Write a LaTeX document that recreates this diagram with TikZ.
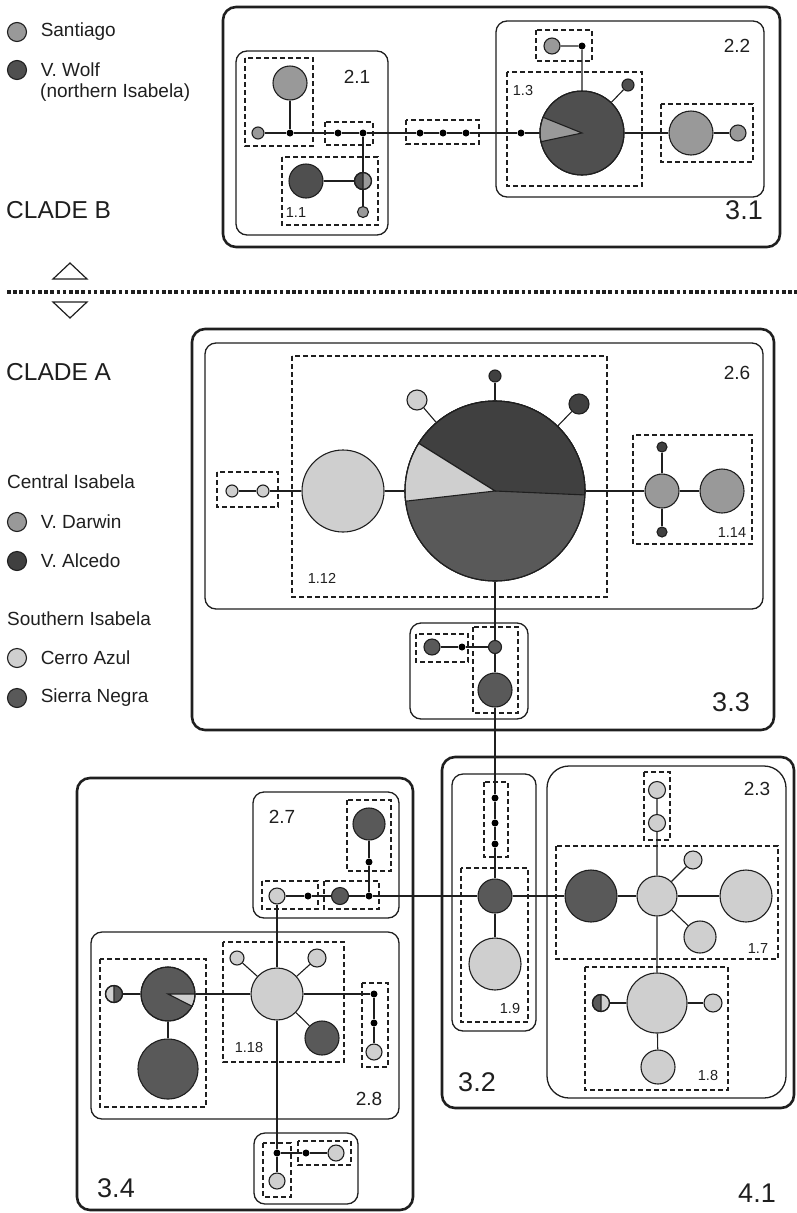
\documentclass[tikz,border=0pt]{standalone}
\usepackage{fontspec}
\setmainfont{Liberation Sans}
\usetikzlibrary{positioning}
\definecolor{santiago}{gray}{0.60}
\definecolor{wolf}{gray}{0.31}
\definecolor{darwin}{gray}{0.60}
\definecolor{alcedo}{gray}{0.25}
\definecolor{sierra}{gray}{0.35}
\definecolor{azul}{gray}{0.81}
\definecolor{ink}{gray}{0.12}
\tikzset{
  hap/.style={circle, draw=ink, fill=#1, line width=1.1pt, inner sep=0pt}, % one haplotype
  mv/.style={circle, fill=black, inner sep=0pt, minimum size=7pt}, % missing haplotype
  link/.style={draw=ink, line width=1.1pt},
  lvlone/.style={draw=ink, line width=1.4pt, dash pattern=on 5pt off 3pt}, % 1-step clades
  lvltwo/.style={draw=ink, line width=1.3pt, rounded corners=11pt}, % 2-step clades
  lvlthree/.style={draw=ink, line width=2.6pt, rounded corners=13pt}, % 3-step clades
  lab/.style={text=ink, inner sep=0pt, font=\fontsize{14.5}{17}\selectfont},
  midlab/.style={text=ink, inner sep=0pt, font=\fontsize{19}{22}\selectfont},
  biglab/.style={text=ink, inner sep=0pt, font=\fontsize{27}{30}\selectfont},
  legend/.style={text=ink, inner sep=0pt, anchor=west, font=\fontsize{19}{23}\selectfont},
}
\newcommand{\hapwedge}[5]{\filldraw[fill=#5, draw=ink, line width=1.1pt] (#1.center) -- ++(#2:#4) arc[start angle=#2, end angle=#3, radius=#4] -- cycle;}
\newcommand{\hapring}[2]{\draw[ink, line width=1.1pt] (#1.center) circle[radius=#2];}

\begin{document}
\begin{tikzpicture}[x=1pt, y=-1pt]
  \useasboundingbox (0,0) rectangle (797,1213);

  % legend, clade B
  \node[hap=santiago, minimum size=19pt] (legSant) at (17,32) {};
  \node[legend, right=13.5pt of legSant] {Santiago};
  \node[hap=wolf, minimum size=19pt] (legWolf) at (17,70) {};
  \node[legend, right=13.5pt of legWolf] (legWolfT) {V. Wolf};
  \node[legend] (legWolfN) at (40,93) {(northern Isabela)};
  \node[legend, font=\fontsize{24.5}{28}\selectfont] (cladeB) at (6,210) {CLADE B};

  % separator
  \draw[ink, line width=3.6pt, dash pattern=on 3.6pt off 2.6pt] (7,292) -- (797,292);
  \draw[ink, line width=1.2pt] (53,279) -- (87,279) -- (70,263) -- cycle;
  \draw[ink, line width=1.2pt] (53,302) -- (87,302) -- (70,318) -- cycle;

  % legend, clade A
  \node[legend, font=\fontsize{24.5}{28}\selectfont] (cladeA) at (6,372) {CLADE A};
  \node[legend] (legCen) at (7,482) {Central Isabela};
  \node[hap=darwin, minimum size=19pt] (legDar) at (17,522) {};
  \node[legend, right=13.5pt of legDar] {V. Darwin};
  \node[hap=alcedo, minimum size=19pt] (legAlc) at (17,561) {};
  \node[legend, right=13.5pt of legAlc] {V. Alcedo};
  \node[legend] (legSou) at (7,619) {Southern Isabela};
  \node[hap=azul, minimum size=19pt] (legAzul) at (17,658) {};
  \node[legend, right=13.5pt of legAzul] {Cerro Azul};
  \node[hap=sierra, minimum size=19pt] (legSier) at (17,698) {};
  \node[legend, right=13.5pt of legSier] {Sierra Negra};

  % ---- clade B boxes
  \draw[lvlthree] (223,7) rectangle (780,247);
  \draw[lvltwo] (236,51) rectangle (388,235);
  \draw[lvlone] (245,58) rectangle (313,146);
  \draw[lvlone] (325,122) rectangle (373,145);
  \draw[lvlone] (282,157) rectangle (378,225);
  \draw[lvlone] (406,120) rectangle (479,144);
  \draw[lvltwo] (496,21) rectangle (764,197);
  \draw[lvlone] (536,30) rectangle (592,61);
  \draw[lvlone] (507,72) rectangle (642,186);
  \draw[lvlone] (661,104) rectangle (753,162);
  \node[biglab] (l31) at (744,210) {3.1};
  \node[midlab] (l21) at (357,77) {2.1};
  \node[midlab] (l22) at (737,46) {2.2};
  \node[lab] (l13) at (523,91) {1.3};
  \node[lab] (l11) at (296,213) {1.1};

  \node[hap=santiago, minimum size=34pt] (B1) at (290,83) {};
  \node[hap=santiago, minimum size=12pt] (B2) at (258,133) {};
  \node[mv] (mA) at (290,133) {};
  \node[mv] (mB) at (338,133) {};
  \node[mv] (mC) at (363,133) {};
  \node[hap=santiago, minimum size=17pt] (B4) at (363,181) {};
  \hapwedge{B4}{90}{270}{8.5pt}{wolf}
  \hapring{B4}{8.5pt}
  \node[hap=wolf, minimum size=34pt] (B3) at (306,181) {};
  \node[hap=santiago, minimum size=11pt] (B5) at (363,212) {};
  \node[mv] (mD) at (420,133) {};
  \node[mv] (mE) at (443,133) {};
  \node[mv] (mF) at (466,133) {};
  \node[mv] (mG) at (521,133) {};
  \node[hap=wolf, minimum size=84pt] (B6) at (582,133) {};
  \hapwedge{B6}{158}{192}{42pt}{santiago}
  \hapring{B6}{42pt}
  \node[hap=wolf, minimum size=12pt] (B7) at (628,85) {};
  \node[mv] (mH) at (582,46) {};
  \node[hap=santiago, minimum size=16pt] (B8) at (552,46) {};
  \node[hap=santiago, minimum size=44pt] (B9) at (691,133) {};
  \node[hap=santiago, minimum size=16pt] (B10) at (738,133) {};

  \draw[link] (B2) -- (mA) -- (mB) -- (mC) -- (mD) -- (mE) -- (mF) -- (mG) -- (B6) -- (B9) -- (B10);
  \draw[link] (B1) -- (mA);
  \draw[link] (mC) -- (B4) -- (B5);
  \draw[link] (B3) -- (B4);
  \draw[link] (B8) -- (mH) -- (B6) -- (B7);

  % ---- clade A, 3.3
  \draw[lvlthree] (192,329) rectangle (774,730);
  \draw[lvltwo] (205,343) rectangle (763,609);
  \draw[lvlone] (292,356) rectangle (607,597);
  \draw[lvlone] (217,472) rectangle (278,507);
  \draw[lvlone] (633,435) rectangle (752,544);
  \draw[lvltwo] (410,623) rectangle (528,719);
  \draw[lvlone] (416,634) rectangle (468,662);
  \draw[lvlone] (473,627) rectangle (518,713);
  \node[biglab] (l33) at (731,702) {3.3};
  \node[midlab] (l26) at (737,373) {2.6};
  \node[lab] (l112) at (322,578) {1.12};
  \node[lab] (l114) at (732,533) {1.14};

  \node[hap=azul, minimum size=12pt] (A1) at (232,491) {};
  \node[hap=azul, minimum size=12pt] (A2) at (263,491) {};
  \node[hap=azul, minimum size=82pt] (A3) at (343,491) {};
  \node[hap=sierra, minimum size=180pt] (A4) at (495,491) {};
  \hapwedge{A4}{-2.5}{148}{90pt}{alcedo}
  \hapwedge{A4}{148}{186.5}{90pt}{azul}
  \hapring{A4}{90pt}
  \node[hap=azul, minimum size=20pt] (A5) at (417,400) {};
  \node[hap=alcedo, minimum size=12pt] (A6) at (495,376) {};
  \node[hap=alcedo, minimum size=20pt] (A7) at (579,404) {};
  \node[hap=darwin, minimum size=34pt] (A8) at (662,491) {};
  \node[hap=darwin, minimum size=44pt] (A9) at (722,491) {};
  \node[hap=alcedo, minimum size=10pt] (A10) at (662,447) {};
  \node[hap=alcedo, minimum size=10pt] (A11) at (662,532) {};
  \node[hap=sierra, minimum size=16pt] (A12) at (432,647) {};
  \node[mv] (mI) at (462,647) {};
  \node[hap=sierra, minimum size=13pt] (A13) at (495,647) {};
  \node[hap=sierra, minimum size=34pt] (A14) at (495,690) {};

  \draw[link] (A1) -- (A2) -- (A3) -- (A4) -- (A8) -- (A9);
  \draw[link] (A5) -- (A4);
  \draw[link] (A6) -- (A4);
  \draw[link] (A7) -- (A4);
  \draw[link] (A10) -- (A8) -- (A11);
  \draw[link] (A12) -- (mI) -- (A13);

  % ---- 3.2 and 2.3
  \draw[lvlthree] (442,757) rectangle (794,1108);
  \draw[lvltwo] (452,774) rectangle (536,1031);
  \draw[lvlone] (484,782) rectangle (508,857);
  \draw[lvlone] (461,868) rectangle (528,1022);
  \draw[lvltwo, rounded corners=22pt] (547,766) rectangle (786,1098);
  \draw[lvlone] (644,772) rectangle (670,840);
  \draw[lvlone] (556,846) rectangle (778,959);
  \draw[lvlone] (585,967) rectangle (728,1090);
  \node[biglab] (l32) at (477,1082) {3.2};
  \node[biglab] (l41) at (757,1193) {4.1};
  \node[midlab] (l23) at (757,789) {2.3};
  \node[lab] (l19) at (510,1008) {1.9};
  \node[lab] (l17) at (758,948) {1.7};
  \node[lab] (l18) at (708,1075) {1.8};

  \node[mv] (mJ) at (495,798) {};
  \node[mv] (mK) at (495,823) {};
  \node[mv] (mL) at (495,844) {};
  \node[hap=sierra, minimum size=34pt] (C1) at (495,896) {};
  \node[hap=azul, minimum size=52pt] (C2) at (495,964) {};
  \node[hap=azul, minimum size=17pt] (C3) at (657,790) {};
  \node[hap=azul, minimum size=17pt] (C4) at (657,823) {};
  \node[hap=sierra, minimum size=52pt] (C5) at (591,896) {};
  \node[hap=azul, minimum size=40pt] (C6) at (657,896) {};
  \node[hap=azul, minimum size=52pt] (C7) at (746,896) {};
  \node[hap=azul, minimum size=18pt] (C8) at (693,860) {};
  \node[hap=azul, minimum size=32pt] (C9) at (700,937) {};
  \node[hap=azul, minimum size=60pt] (C10) at (657,1003) {};
  \node[hap=azul, minimum size=17pt] (C11) at (601,1003) {};
  \hapwedge{C11}{90}{270}{8.5pt}{sierra}
  \hapring{C11}{8.5pt}
  \node[hap=azul, minimum size=18pt] (C12) at (713,1003) {};
  \node[hap=azul, minimum size=34pt] (C13) at (658,1067) {};

  \draw[link] (A4) -- (A13) -- (A14) -- (mJ) -- (mK) -- (mL) -- (C1) -- (C2);
  \draw[link] (C1) -- (C5) -- (C6) -- (C7);
  \draw[link] (C3) -- (C4) -- (C6) -- (C10) -- (C13);
  \draw[link] (C6) -- (C8);
  \draw[link] (C6) -- (C9);
  \draw[link] (C11) -- (C10) -- (C12);

  % ---- 3.4
  \draw[lvlthree] (77,778) rectangle (413,1210);
  \draw[lvltwo] (253,792) rectangle (399,918);
  \draw[lvlone] (347,800) rectangle (391,871);
  \draw[lvlone] (262,881) rectangle (318,909);
  \draw[lvlone] (324,881) rectangle (379,909);
  \draw[lvltwo] (91,932) rectangle (399,1119);
  \draw[lvlone] (100,959) rectangle (206,1107);
  \draw[lvlone] (223,942) rectangle (344,1062);
  \draw[lvlone] (362,983) rectangle (388,1067);
  \draw[lvltwo] (254,1133) rectangle (358,1204);
  \draw[lvlone] (263,1143) rectangle (291,1197);
  \draw[lvlone] (298,1141) rectangle (351,1165);
  \node[biglab] (l34) at (116,1188) {3.4};
  \node[midlab] (l27) at (282,817) {2.7};
  \node[midlab] (l28) at (369,1099) {2.8};
  \node[lab] (l118) at (249,1047) {1.18};

  \node[hap=sierra, minimum size=32pt] (D1) at (369,824) {};
  \node[mv] (mM) at (369,862) {};
  \node[hap=azul, minimum size=16pt] (D2) at (277,896) {};
  \node[mv] (mN) at (308,896) {};
  \node[hap=sierra, minimum size=17pt] (D3) at (340,896) {};
  \node[mv] (mO) at (369,896) {};
  \node[hap=sierra, minimum size=17pt] (D4) at (114,994) {};
  \hapwedge{D4}{90}{270}{8.5pt}{azul}
  \hapring{D4}{8.5pt}
  \node[hap=sierra, minimum size=54pt] (D5) at (168,994) {};
  \hapwedge{D5}{-27}{0}{27pt}{azul}
  \hapring{D5}{27pt}
  \node[hap=sierra, minimum size=60pt] (D6) at (168,1069) {};
  \node[hap=azul, minimum size=52pt] (D7) at (277,994) {};
  \node[hap=azul, minimum size=14pt] (D8) at (237,958) {};
  \node[hap=azul, minimum size=18pt] (D9) at (317,958) {};
  \node[hap=sierra, minimum size=34pt] (D10) at (322,1038) {};
  \node[mv] (mP) at (374,994) {};
  \node[mv] (mQ) at (374,1023) {};
  \node[hap=azul, minimum size=16pt] (D11) at (374,1052) {};
  \node[mv] (mR) at (277,1153) {};
  \node[mv] (mS) at (306,1153) {};
  \node[hap=azul, minimum size=16pt] (D12) at (336,1153) {};
  \node[hap=azul, minimum size=16pt] (D13) at (277,1181) {};

  \draw[link] (D2) -- (mN) -- (D3) -- (mO) -- (C1);
  \draw[link] (D1) -- (mM) -- (mO);
  \draw[link] (D2) -- (D7) -- (mR) -- (D13);
  \draw[link] (mR) -- (mS) -- (D12);
  \draw[link] (D4) -- (D5) -- (D7) -- (mP) -- (mQ) -- (D11);
  \draw[link] (D5) -- (D6);
  \draw[link] (D8) -- (D7) -- (D9);
  \draw[link] (D7) -- (D10);
\end{tikzpicture}
\end{document}
